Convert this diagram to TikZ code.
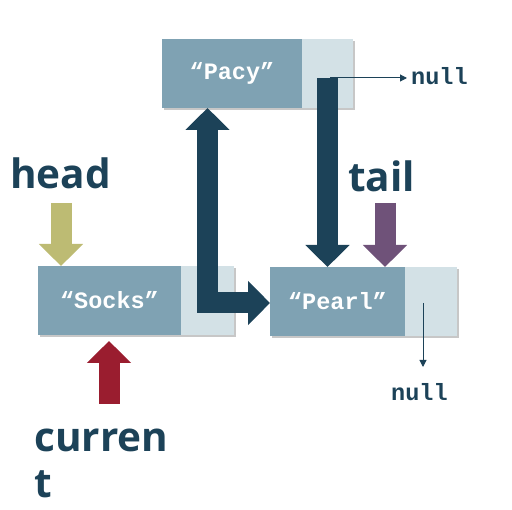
\documentclass[tikz,border=0pt]{standalone}
\usepackage{fontspec}
\newfontfamily\lblfont{Open Sans}
\newfontfamily\monof{Liberation Mono}
\usetikzlibrary{arrows.meta}
\definecolor{dk}{HTML}{1C4258}
\definecolor{mainbx}{HTML}{7FA2B3}
\definecolor{litebx}{HTML}{D3E1E6}
\definecolor{khaki}{HTML}{BDBB73}
\definecolor{purp}{HTML}{6F5279}
\definecolor{redd}{HTML}{9A1D2F}
\tikzset{
  mainpart/.style={fill=mainbx, minimum height=69pt, inner sep=0pt, text=white, font=\monof\bfseries\fontsize{23.5}{26}\selectfont},
  litepart/.style={fill=litebx, minimum height=69pt, inner sep=0pt},
  shadowbox/.style={fill=black!22},
  blockarrow/.style={line width=21pt, -{Triangle[width=43pt,length=22pt]}},
  thinarrow/.style={draw=dk, line width=1pt, -{Triangle[width=7pt,length=7pt]}},
  bigtext/.style={text=dk, font=\lblfont\bfseries\fontsize{40.5}{46}\selectfont, inner sep=0pt},
  nulltext/.style={text=dk, font=\monof\bfseries\fontsize{23.5}{26}\selectfont, inner sep=0pt}
}
\begin{document}
\begin{tikzpicture}[x=1pt,y=-1pt]
\useasboundingbox (0,0) rectangle (512,510);
% shadows
\fill[shadowbox] (164,41) rectangle (355,110);
\fill[shadowbox] (40,268) rectangle (236,337);
\fill[shadowbox] (272,269) rectangle (459,338);
% boxes
\node[mainpart, minimum width=140pt] (pacy) at (232,73.5) {“Pacy”};
\node[litepart, minimum width=51pt] (pacylt) at (327.5,73.5) {};
\node[mainpart, minimum width=143pt] (socks) at (109.5,300.5) {“Socks”};
\node[litepart, minimum width=53pt] (sockslt) at (207.5,300.5) {};
\node[mainpart, minimum width=135pt] (pearl) at (337.5,301.5) {“Pearl”};
\node[litepart, minimum width=52pt] (pearllt) at (431,301.5) {};
% labels
\node[bigtext, anchor=base west] (head) at (10,189) {head};
\node[bigtext, anchor=base west] (tail) at (348,192) {tail};
\node[bigtext, anchor=base west] (curr) at (34,452) {curren};
\node[bigtext, anchor=base west] (currt) at (34,498) {t};
\node[nulltext, anchor=base west] (null1) at (411,85) {null};
\node[nulltext, anchor=base west] (null2) at (391,401) {null};
% coordinates
\coordinate (pacyout) at (327.5,78);
\coordinate (pearlin) at (327.5,267);
\coordinate (dblup) at (207.5,108);
\coordinate (dblbot) at (207.5,303);
\coordinate (dblmid) at (207.5,200);
\coordinate (pearlleft) at (270,303);
\coordinate (headtop) at (61,203);
\coordinate (headtip) at (61,266);
\coordinate (tailtop) at (385,203);
\coordinate (tailtip) at (385,267);
\coordinate (currbot) at (109,404);
\coordinate (currtip) at (109,341);
\coordinate (n1start) at (330,78);
\coordinate (n1end) at (407,78);
\coordinate (n2start) at (423,303);
\coordinate (n2end) at (423,367);
% thin arrows
\draw[thinarrow] (n1start) -- (n1end);
\draw[thinarrow] (n2start) -- (n2end);
% block arrows
\draw[blockarrow, draw=dk] (pacyout) -- (pearlin);
\draw[blockarrow, draw=dk] (dblmid) -- (dblup);
\draw[blockarrow, draw=dk, line join=miter] (dblmid) -- (dblbot) -- (pearlleft);
\draw[blockarrow, draw=khaki] (headtop) -- (headtip);
\draw[blockarrow, draw=purp] (tailtop) -- (tailtip);
\draw[blockarrow, draw=redd] (currbot) -- (currtip);
\end{tikzpicture}
\end{document}
